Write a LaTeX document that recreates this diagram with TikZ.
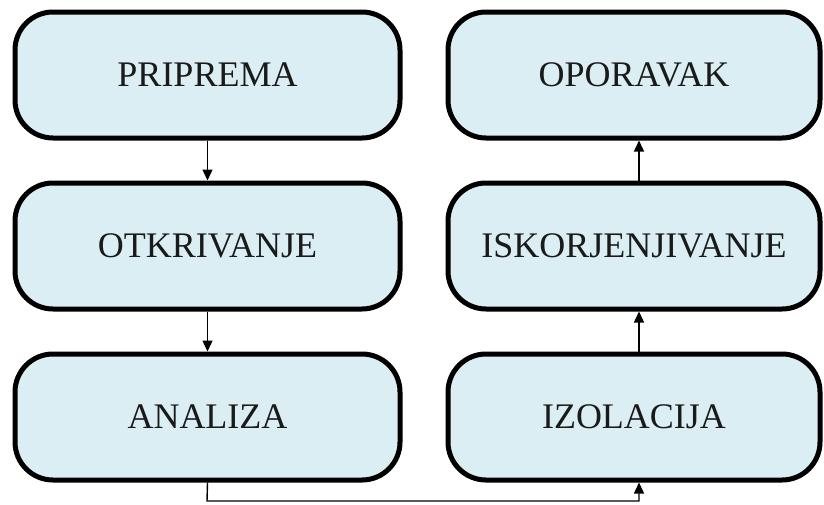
\documentclass[tikz,border=0pt]{standalone}
\usepackage{fontspec}
\setmainfont{Liberation Serif}
\usetikzlibrary{arrows.meta}
\definecolor{boxfill}{HTML}{DAEEF3}
\definecolor{txt}{HTML}{1A1A1A}
\begin{document}
\begin{tikzpicture}[x=1pt,y=-1pt,
  stage/.style={draw=black, line width=5pt, fill=boxfill, rounded corners=38pt,
    minimum height=126pt, inner sep=0pt, text=txt, font=\fontsize{36}{40}\selectfont},
  lstage/.style={stage, minimum width=385pt},
  rstage/.style={stage, minimum width=372pt},
  conn/.style={draw=black, line width=1.4pt, -{Triangle[length=11pt,width=10pt]}}]
\useasboundingbox (0,0) rectangle (824,504);
\node[lstage] (pri) at (207.5,75) {PRIPREMA};
\node[lstage] (otk) at (207.5,246) {OTKRIVANJE};
\node[lstage] (ana) at (207.5,417) {ANALIZA};
\node[rstage] (opo) at (634,75) {OPORAVAK};
\node[rstage] (isk) at (634,246) {ISKORJENJIVANJE};
\node[rstage] (izo) at (634,417) {IZOLACIJA};
\coordinate (bl) at (207,501);
\coordinate (br) at (639,501);
\draw[conn] (pri.south) -- (otk.north);
\draw[conn] (otk.south) -- (ana.north);
\draw[conn] (ana.south) -- (bl) -- (br) -- ([xshift=5pt]izo.south);
\draw[conn] ([xshift=5pt]izo.north) -- ([xshift=5pt]isk.south);
\draw[conn] ([xshift=5pt]isk.north) -- ([xshift=5pt]opo.south);
\end{tikzpicture}
\end{document}
